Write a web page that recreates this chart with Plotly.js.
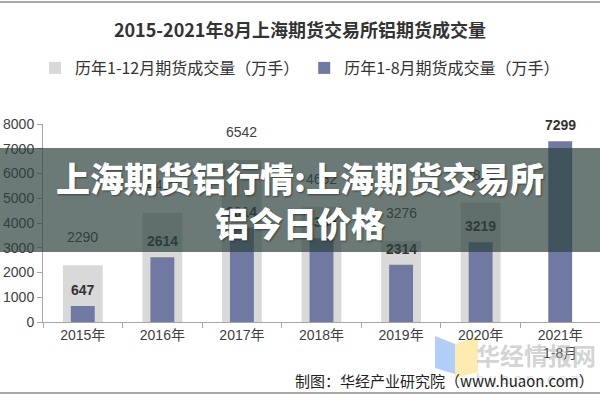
<!DOCTYPE html>
<html>
<head>
<meta charset="utf-8">
<script src="https://cdn.plot.ly/plotly-3.0.1.min.js"></script>
<style>html,body{margin:0;padding:0;background:#fff;}#chart{width:600px;height:400px;}</style>
</head>
<body>
<div id="chart"></div>
<script>
// ---- data ----
const categories = ['2015年', '2016年', '2017年', '2018年', '2019年', '2020年', '2021年<br>1-8月'];
const fullYearVolume = [2290, 4413, 6542, 4652, 3276, 4822, null];   // 历年1-12月期货成交量（万手）
const janAugVolume = [647, 2614, 3814, 3385, 2314, 3219, 7299];       // 历年1-8月期货成交量（万手）
const seriesNames = ['历年1-12月期货成交量（万手）', '历年1-8月期货成交量（万手）'];
const yTicks = [0, 1000, 2000, 3000, 4000, 5000, 6000, 7000, 8000];

// ---- layout helpers (pixel -> paper) ----
const M = {l: 43, r: 0, t: 124, b: 78};
const PW = 600 - M.l - M.r, PH = 400 - M.t - M.b;
const px = x => (x - M.l) / PW;
const py = y => (400 - M.b - y) / PH;

const FONT_CJK = 'Noto Sans CJK SC, Noto Sans, sans-serif';
const FONT_NUM = 'Liberation Sans, Arial, Noto Sans CJK SC, sans-serif';

const traces = [
  {
    type: 'bar', name: seriesNames[0], x: categories, y: fullYearVolume,
    width: 0.5, marker: {color: '#d9d9d9'}, hoverinfo: 'y'
  },
  {
    type: 'bar', name: seriesNames[1], x: categories, y: janAugVolume,
    width: 0.3, marker: {color: '#6f79a2'}, hoverinfo: 'y'
  }
];

const annotations = [];
categories.forEach((c, i) => {
  if (fullYearVolume[i] != null) {
    annotations.push({
      x: c, y: fullYearVolume[i], xref: 'x', yref: 'y', yshift: 28,
      yanchor: 'middle', showarrow: false, text: String(fullYearVolume[i]),
      font: {family: FONT_NUM, size: 14, color: '#404040'}
    });
  }
  annotations.push({
    x: c, y: janAugVolume[i], xref: 'x', yref: 'y', yshift: 16,
    yanchor: 'middle', showarrow: false, text: String(janAugVolume[i]),
    font: {family: FONT_NUM, size: 14, color: '#333333', weight: 700}
  });
});

// overlay banner
annotations.push({
  xref: 'paper', yref: 'paper', x: px(300), y: py(200), xanchor: 'center', yanchor: 'middle',
  width: 606, height: 104, borderpad: 0, borderwidth: 0,
  bgcolor: 'rgba(44,66,61,0.7)', showarrow: false, align: 'center',
  text: '上海期货铝行情:上海期货交易所<br>铝今日价格',
  font: {family: FONT_CJK, size: 34, color: '#ffffff', weight: 900, shadow: '1px 1px 2px rgba(0,0,0,0.45)'}
});

// watermark text
annotations.push({
  xref: 'paper', yref: 'paper', x: px(536), y: py(354), xanchor: 'center', yanchor: 'middle',
  showarrow: false, text: '华经情报网',
  font: {family: FONT_CJK, size: 24, color: 'rgba(175,175,175,0.55)', weight: 700}
});
annotations.push({
  xref: 'paper', yref: 'paper', x: px(530), y: py(378), xanchor: 'center', yanchor: 'middle',
  showarrow: false, text: 'h u a o n . c o m',
  font: {family: FONT_NUM, size: 15, color: 'rgba(185,185,185,0.5)'}
});
// source
annotations.push({
  xref: 'paper', yref: 'paper', x: px(596), y: py(380), xanchor: 'right', yanchor: 'middle',
  showarrow: false, text: '制图：华经产业研究院（www.huaon.com）',
  font: {family: FONT_CJK, size: 15, color: '#222222'}
});

function path(pts) {
  return 'M' + pts.map(p => px(p[0]).toFixed(4) + ',' + py(p[1]).toFixed(4)).join(' L') + ' Z';
}

const shapes = [
  {type: 'line', xref: 'paper', yref: 'paper', x0: px(0), x1: px(600), y0: py(2), y1: py(2),
   line: {color: '#8c8c8c', width: 1.5}},
  {type: 'line', xref: 'paper', yref: 'paper', x0: px(0), x1: px(600), y0: py(393), y1: py(393),
   line: {color: '#8c8c8c', width: 1.5}},
  {type: 'path', xref: 'paper', yref: 'paper', layer: 'below',
   path: path([[435, 336], [455, 344], [455, 374], [435, 368]]),
   fillcolor: 'rgba(150,190,245,0.75)', line: {width: 0}},
  {type: 'path', xref: 'paper', yref: 'paper', layer: 'below',
   path: path([[455, 344], [478, 336], [478, 372], [455, 378]]),
   fillcolor: 'rgba(252,228,150,0.75)', line: {width: 0}}
];

const layout = {
  width: 600, height: 400,
  margin: M,
  paper_bgcolor: '#ffffff', plot_bgcolor: '#ffffff',
  barmode: 'overlay',
  title: {
    text: '<b>2015-2021年8月上海期货交易所铝期货成交量</b>',
    x: 0.5, xref: 'container', xanchor: 'center', y: 1 - 31 / 400, yanchor: 'middle',
    font: {family: FONT_CJK, size: 18, color: '#333333'}
  },
  showlegend: true,
  legend: {
    orientation: 'h', x: px(300), xanchor: 'center', y: py(68), yanchor: 'middle',
    font: {family: FONT_CJK, size: 16, color: '#333333'}, itemwidth: 30,
    traceorder: 'normal', bgcolor: 'rgba(0,0,0,0)'
  },
  xaxis: {
    type: 'category', showgrid: false, zeroline: false,
    showline: true, linecolor: '#a6a6a6', linewidth: 1,
    ticks: 'outside', tickson: 'boundaries', ticklen: 5, tickcolor: '#a6a6a6',
    tickfont: {family: FONT_NUM, size: 14, color: '#404040'}, fixedrange: true
  },
  yaxis: {
    range: [0, 8000], tickvals: yTicks, tickformat: 'd',
    showgrid: false, zeroline: false,
    showline: true, linecolor: '#a6a6a6', linewidth: 1,
    ticks: 'outside', ticklen: 5, tickcolor: '#a6a6a6',
    tickfont: {family: FONT_NUM, size: 14, color: '#404040'}, fixedrange: true
  },
  annotations: annotations,
  shapes: shapes
};

Plotly.newPlot('chart', traces, layout, {displayModeBar: false, staticPlot: true});
</script>
</body>
</html>
